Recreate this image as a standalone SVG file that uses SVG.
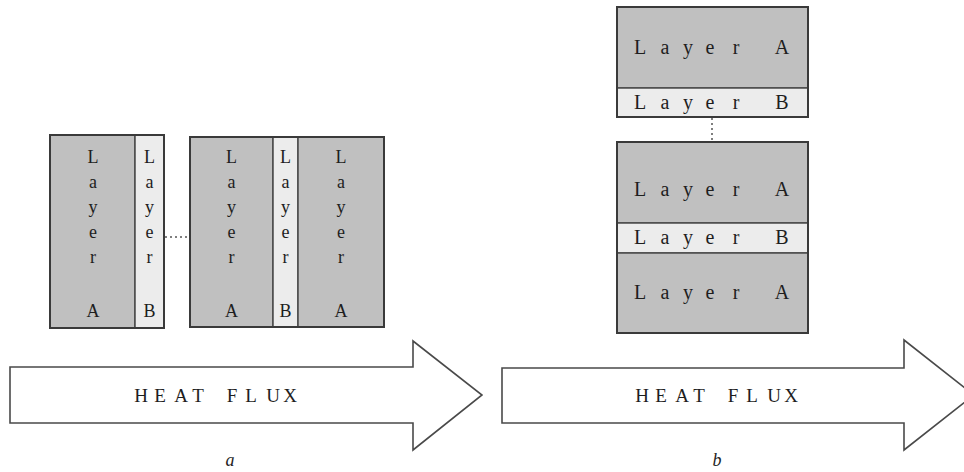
<svg xmlns="http://www.w3.org/2000/svg" width="964" height="472" viewBox="0 0 964 472">
<style>
.bg{fill:#ffffff}
.la{fill:#c0c0c0;stroke:#4a4a4a;stroke-width:1.5}
.lb{fill:#ececec;stroke:#4a4a4a;stroke-width:1.5}
.box{fill:none;stroke:#3a3a3a;stroke-width:2}
.t{font-family:"Liberation Serif","DejaVu Serif",serif;fill:#1e1e1e;text-anchor:middle}
.v{font-size:18px}
.h{font-size:20px}
.hf{font-size:19px}
.cap{font-size:18px;font-style:italic}
.arrow{fill:#ffffff;stroke:#4a4a4a;stroke-width:1.6;stroke-linejoin:miter}
.dot{fill:none;stroke:#555;stroke-width:1.5;stroke-dasharray:2 3}
</style>
<rect class="bg" x="0" y="0" width="964" height="472"/>

<g id="a-stack1">
  <rect class="la" x="50" y="135" width="85" height="193"/>
  <rect class="lb" x="135" y="135" width="29" height="193"/>
  <rect class="box" x="50" y="135" width="114" height="193"/>
  <text class="t v" x="93 93 93 93 93" y="163 188 213 238 263">Layer</text>
  <text class="t v" x="93" y="317">A</text>
  <text class="t v" x="149.5 149.5 149.5 149.5 149.5" y="163 188 213 238 263">Layer</text>
  <text class="t v" x="149.5" y="317">B</text>
</g>

<g id="a-stack2">
  <rect class="la" x="190" y="137" width="83" height="190"/>
  <rect class="lb" x="273" y="137" width="25" height="190"/>
  <rect class="la" x="298" y="137" width="86" height="190"/>
  <rect class="box" x="190" y="137" width="194" height="190"/>
  <text class="t v" x="231.5 231.5 231.5 231.5 231.5" y="163 188 213 238 263">Layer</text>
  <text class="t v" x="231.5" y="317">A</text>
  <text class="t v" x="285.5 285.5 285.5 285.5 285.5" y="163 188 213 238 263">Layer</text>
  <text class="t v" x="285.5" y="317">B</text>
  <text class="t v" x="341 341 341 341 341" y="163 188 213 238 263">Layer</text>
  <text class="t v" x="341" y="317">A</text>
</g>

<g id="b-stack1">
  <rect class="la" x="617" y="7" width="191" height="81"/>
  <rect class="lb" x="617" y="88" width="191" height="29"/>
  <rect class="box" x="617" y="7" width="191" height="110"/>
  <text class="t h" x="640 665 688 710 736 760 782" y="54">Layer A</text>
  <text class="t h" x="640 665 688 710 736 760 782" y="109">Layer B</text>
</g>

<g id="b-stack2">
  <rect class="la" x="617" y="142" width="191" height="81"/>
  <rect class="lb" x="617" y="223" width="191" height="30"/>
  <rect class="la" x="617" y="253" width="191" height="80"/>
  <rect class="box" x="617" y="142" width="191" height="191"/>
  <text class="t h" x="640 665 688 710 736 760 782" y="196">Layer A</text>
  <text class="t h" x="640 665 688 710 736 760 782" y="244">Layer B</text>
  <text class="t h" x="640 665 688 710 736 760 782" y="299">Layer A</text>
</g>

<g id="connectors">
  <line class="dot" x1="165" y1="237" x2="190" y2="237"/>
  <line class="dot" x1="712" y1="118" x2="712" y2="142"/>
</g>

<g id="arrow-a">
  <polygon class="arrow" points="10,367 413,367 413,341 482,395 413,450 413,423 10,423"/>
  <text class="t hf" x="141 160 181 198 215 232 251 273 290" y="402">HEAT FLUX</text>
  <text class="t cap" x="230" y="466">a</text>
</g>

<g id="arrow-b">
  <polygon class="arrow" points="502,368 904,368 904,340 974,395 904,450 904,423 502,423"/>
  <text class="t hf" x="642 661 682 699 716 733 752 774 791" y="402">HEAT FLUX</text>
  <text class="t cap" x="717" y="466">b</text>
</g>
</svg>
